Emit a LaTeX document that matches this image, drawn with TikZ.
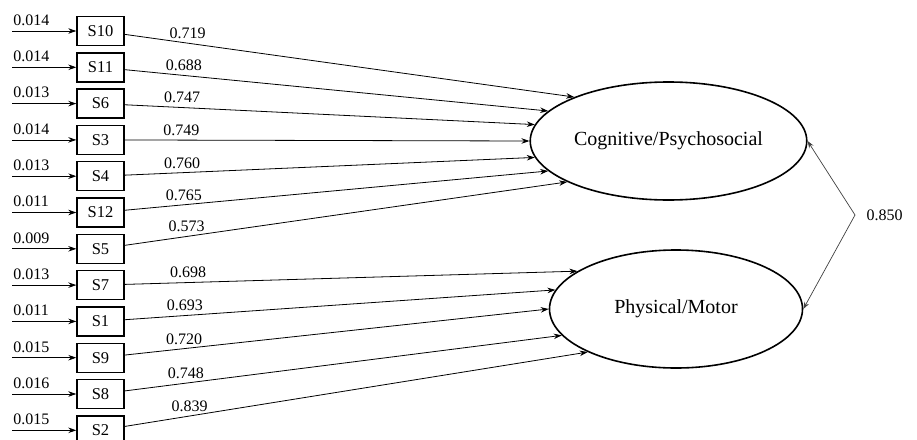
\documentclass[tikz,border=0pt]{standalone}
\usepackage{fontspec}
\setmainfont{Liberation Serif}
\usetikzlibrary{arrows.meta,shapes.geometric,positioning}
\tikzstyle{fleche} = [->,>={Stealth[length=8pt,width=5.5pt]},line width=0.8pt]
\tikzstyle{fleche2} = [<->,>={Stealth[length=7pt,width=5pt]},line width=0.7pt,draw=black!75]
\tikzstyle{boite} = [draw,line width=1.4pt,minimum width=47pt,minimum height=29pt,inner sep=0pt,font=\fontsize{16.5}{19}\selectfont]
\tikzstyle{latent} = [draw,ellipse,line width=1.6pt,minimum width=253pt,minimum height=118pt,font=\fontsize{20}{24}\selectfont]
\tikzstyle{poids} = [above,pos=0.14,inner sep=4pt]
\tikzstyle{erreur} = [above right,pos=0,inner xsep=1pt,inner ysep=5pt]

\begin{document}
\begin{tikzpicture}[x=1pt,y=-1pt,font=\fontsize{16}{19}\selectfont]

	\useasboundingbox (0,0) rectangle (917,439);

	\node[latent] (cog) at (668.5,141) {Cognitive/Psychosocial};
	\node[latent] (phys) at (676,309) {Physical/Motor};

	\node[boite] (S10) at (100.5,31) {S10};
	\node[boite] (S11) at (100.5,67.3) {S11};
	\node[boite] (S6) at (100.5,103.6) {S6};
	\node[boite] (S3) at (100.5,139.9) {S3};
	\node[boite] (S4) at (100.5,176.2) {S4};
	\node[boite] (S12) at (100.5,212.5) {S12};
	\node[boite] (S5) at (100.5,248.8) {S5};
	\node[boite] (S7) at (100.5,285.1) {S7};
	\node[boite] (S1) at (100.5,321.4) {S1};
	\node[boite] (S9) at (100.5,357.7) {S9};
	\node[boite] (S8) at (100.5,394) {S8};
	\node[boite] (S2) at (100.5,430.3) {S2};

	\coordinate (e10) at (12,31);
	\coordinate (e11) at (12,67.3);
	\coordinate (e6) at (12,103.6);
	\coordinate (e3) at (12,139.9);
	\coordinate (e4) at (12,176.2);
	\coordinate (e12) at (12,212.5);
	\coordinate (e5) at (12,248.8);
	\coordinate (e7) at (12,285.1);
	\coordinate (e1) at (12,321.4);
	\coordinate (e9) at (12,357.7);
	\coordinate (e8) at (12,394);
	\coordinate (e2) at (12,430.3);

	\draw[fleche] (e10) -- node[erreur] {0.014} (S10);
	\draw[fleche] (e11) -- node[erreur] {0.014} (S11);
	\draw[fleche] (e6) -- node[erreur] {0.013} (S6);
	\draw[fleche] (e3) -- node[erreur] {0.014} (S3);
	\draw[fleche] (e4) -- node[erreur] {0.013} (S4);
	\draw[fleche] (e12) -- node[erreur] {0.011} (S12);
	\draw[fleche] (e5) -- node[erreur] {0.009} (S5);
	\draw[fleche] (e7) -- node[erreur] {0.013} (S7);
	\draw[fleche] (e1) -- node[erreur] {0.011} (S1);
	\draw[fleche] (e9) -- node[erreur] {0.015} (S9);
	\draw[fleche] (e8) -- node[erreur] {0.016} (S8);
	\draw[fleche] (e2) -- node[erreur] {0.015} (S2);

	\draw[fleche] (S10) -- node[poids] {0.719} (cog.155);
	\draw[fleche] (S11) -- node[poids] {0.688} (cog.166);
	\draw[fleche] (S6) -- node[poids] {0.747} (cog.173);
	\draw[fleche] (S3) -- node[poids] {0.749} (cog.180);
	\draw[fleche] (S4) -- node[poids] {0.760} (cog.187);
	\draw[fleche] (S12) -- node[poids] {0.765} (cog.194);
	\draw[fleche] (S5) -- node[poids] {0.573} (cog.202);

	\draw[fleche] (S7) -- node[poids] {0.698} (phys.159);
	\draw[fleche] (S1) -- node[poids] {0.693} (phys.171);
	\draw[fleche] (S9) -- node[poids] {0.720} (phys.180);
	\draw[fleche] (S8) -- node[poids] {0.748} (phys.193);
	\draw[fleche] (S2) -- node[poids] {0.839} (phys.206);

	\coordinate (cv) at (855,215);
	\draw[fleche2] (cog.east) -- (cv) -- (phys.east);
	\node[right=8pt of cv] (cor) {0.850};

\end{tikzpicture}
\end{document}
